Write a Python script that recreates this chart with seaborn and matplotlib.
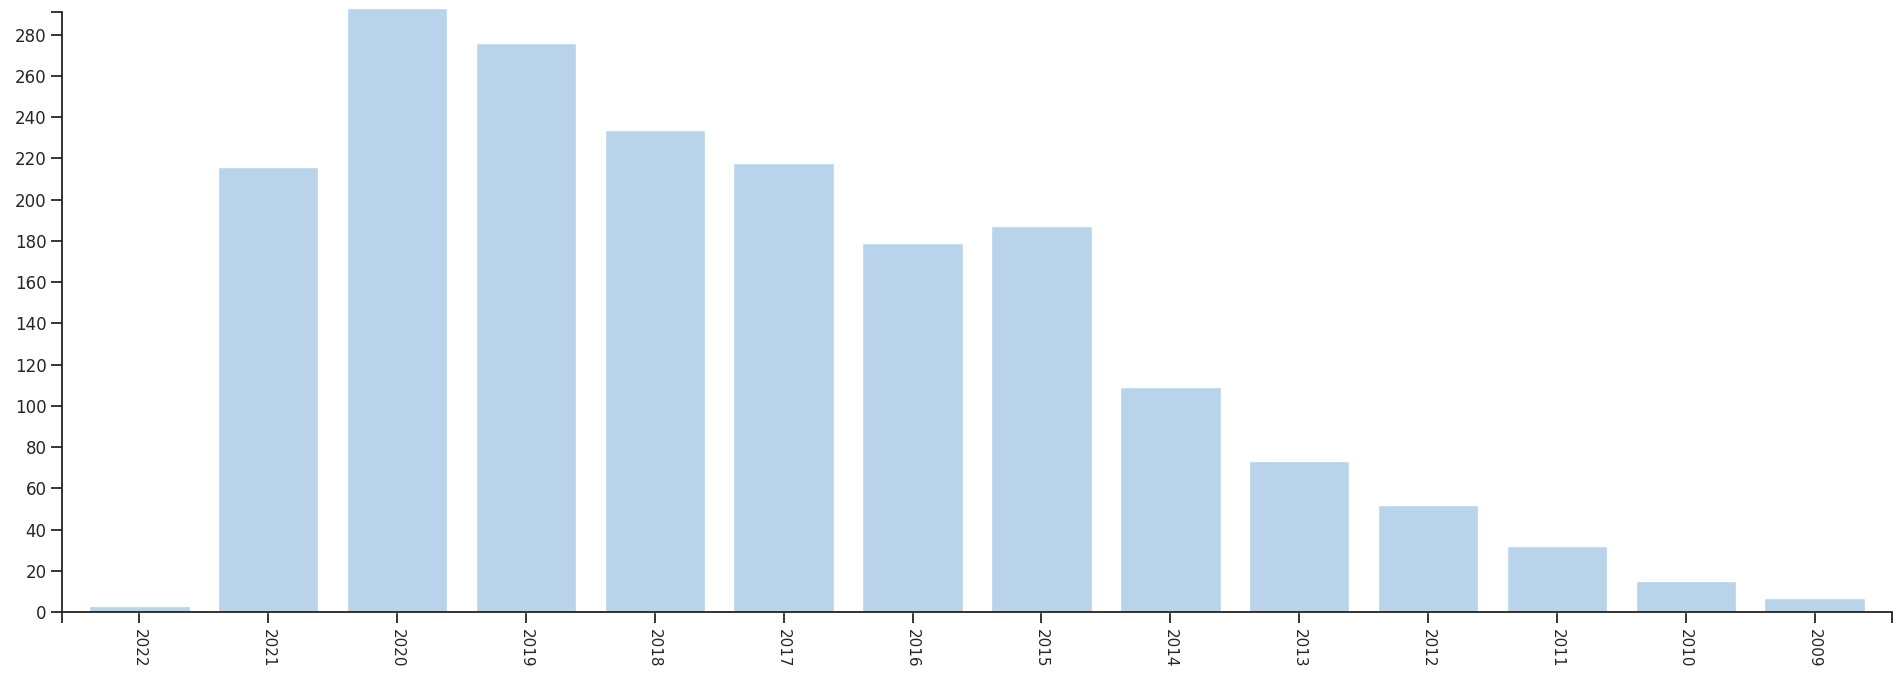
import numpy as np
import matplotlib
matplotlib.use('Agg')
import matplotlib.pyplot as plt
import seaborn as sns
import pandas as pd

years = ['2022', '2021', '2020', '2019', '2018', '2017', '2016',
         '2015', '2014', '2013', '2012', '2011', '2010', '2009']
counts = [3, 216, 293, 276, 234, 218, 179, 187, 109, 73, 52, 32, 15, 7]
y_ticks = list(range(0, 281, 20))

sns.set_style('ticks')
plt.rcParams['font.family'] = ['DejaVu Sans']

df = pd.DataFrame({'year': years, 'count': counts})

fig = plt.figure(figsize=(19.01, 6.74), dpi=100)
ax = fig.add_axes([62 / 1901, 1 - 612 / 674, (1892 - 62) / 1901, 600 / 674])

sns.barplot(data=df, x='year', y='count', order=years, color='#b9d3ea',
            saturation=1, width=0.78, ax=ax)
# the tallest bar pokes a little above the axis end, as in the original
for p in ax.patches:
    p.set_clip_on(False)

ax.set_xlim(-0.6, 13.6)
ax.set_ylim(0, 291)
ax.set_yticks(y_ticks)
ax.set_xlabel('')
ax.set_ylabel('')
ax.tick_params(axis='x', labelrotation=-90, labelsize=11, length=8, width=1.3, pad=4)
ax.tick_params(axis='y', labelsize=12, length=8, width=1.3, pad=3)

# outer ticks at the ends of the axis lines
ax.set_xticks([-0.6, 13.6], minor=True)
ax.set_yticks([291], minor=True)
ax.tick_params(which='minor', length=8, width=1.3)

for side in ['top', 'right']:
    ax.spines[side].set_visible(False)
for side in ['left', 'bottom']:
    ax.spines[side].set_linewidth(1.3)
    ax.spines[side].set_color('#222222')

fig.savefig('out.png', dpi=100)
